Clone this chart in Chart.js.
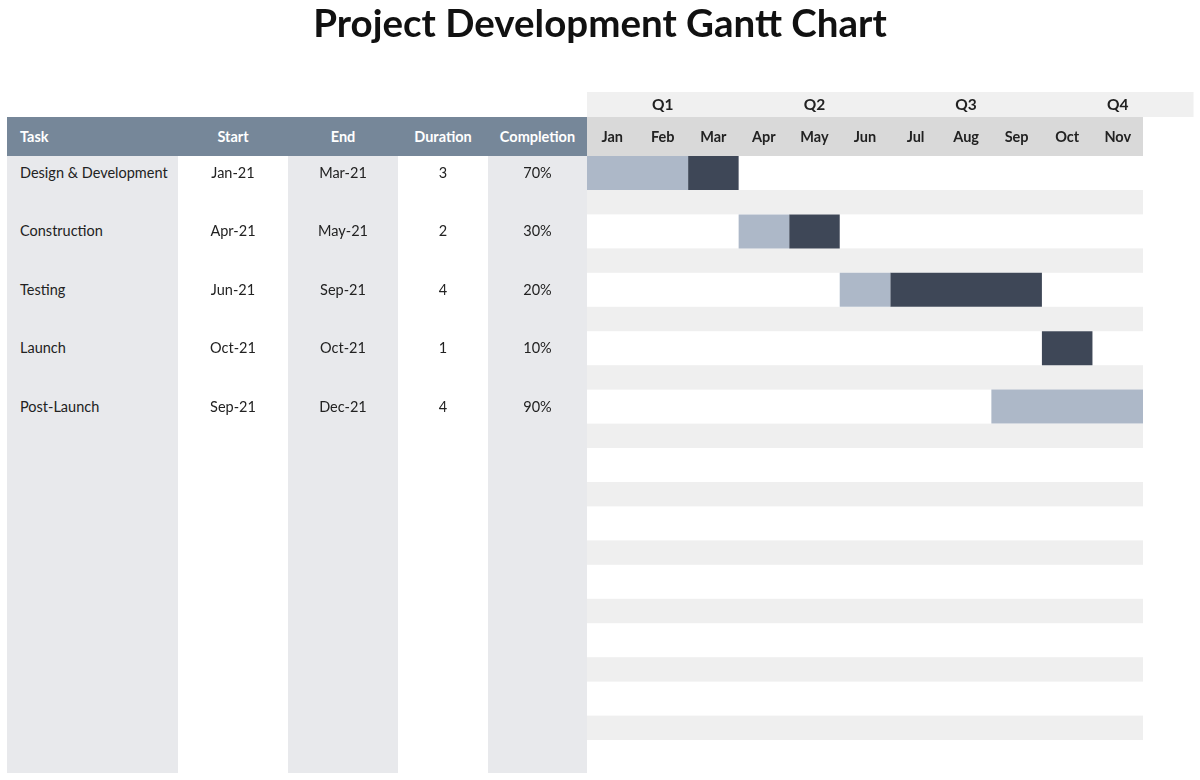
<!DOCTYPE html>
<html>
<head>
<meta charset="utf-8">
<script src="https://cdn.jsdelivr.net/npm/chart.js@4"></script>
<style>
    body { margin: 0; width: 1200px; height: 780px; overflow: hidden; background: #fff; position: relative; font-family: Lato, sans-serif; }
    h1 { position: absolute; left: 0; top: 0; width: 1200px; margin: 0; text-align: center; font-size: 38.5px; line-height: 44px; font-weight: 700; color: #111; }
    #chart { position: absolute; left: 0; top: 0; }
    .col { position: absolute; top: 156px; height: 617px; background: #e8e9ec; }
    #head { position: absolute; left: 7px; top: 117px; width: 580px; height: 39px; background: #768799; }
    .cell { position: absolute; height: 34px; line-height: 34px; font-size: 14.5px; color: #222; white-space: nowrap; }
    .hcell { position: absolute; top: 117px; height: 39px; line-height: 39px; font-size: 14.5px; font-weight: 700; color: #fff; white-space: nowrap; }
</style>
</head>
<body>
<canvas id="chart" width="1200" height="790"></canvas>
<div id="table"></div>
<h1>Project Development Gantt Chart</h1>
<script>
const tasks = ['Design & Development', 'Construction', 'Testing', 'Launch', 'Post-Launch'];
const startLabels = ['Jan-21', 'Apr-21', 'Jun-21', 'Oct-21', 'Sep-21'];
const endLabels = ['Mar-21', 'May-21', 'Sep-21', 'Oct-21', 'Dec-21'];
const durations = [3, 2, 4, 1, 4];
const completion = ['70%', '30%', '20%', '10%', '90%'];
const startMonth = [0, 3, 5, 9, 8];       // month index, Jan = 0
const completedMonths = [2, 1, 1, 0, 4];  // shaded light part of each bar
const months = ['Jan', 'Feb', 'Mar', 'Apr', 'May', 'Jun', 'Jul', 'Aug', 'Sep', 'Oct', 'Nov'];
const quarters = ['Q1', 'Q2', 'Q3', 'Q4'];
const headers = ['Task', 'Start', 'End', 'Duration', 'Completion'];
const emptyRows = 6;

const rowLabels = tasks.concat(Array(emptyRows).fill(''));
const BAR_PCT = 34 / 58.4;

// left table columns: [left, right, shaded]
const cols = [[7, 178, true], [178, 288, false], [288, 398, true], [398, 488, false], [488, 587, true]];

const ganttPlugin = {
    id: 'gantt',
    beforeDatasetsDraw(chart) {
        const { ctx, scales: { x, y } } = chart;
        const h = (y.getPixelForValue(1) - y.getPixelForValue(0)) * BAR_PCT;
        ctx.save();
        ctx.fillStyle = '#efefef';
        for (let i = 0; i < rowLabels.length - 1; i++) {
            const top = y.getPixelForValue(i) + h / 2;
            const bot = y.getPixelForValue(i + 1) - h / 2;
            ctx.fillRect(x.left, top, x.right - x.left, bot - top);
        }
        ctx.restore();
    },
    afterDraw(chart) {
        const { ctx, scales: { x } } = chart;
        ctx.save();
        // quarter band
        ctx.fillStyle = '#f0f0f0';
        ctx.fillRect(x.getPixelForValue(0), 92, x.getPixelForValue(12) - x.getPixelForValue(0), 25);
        ctx.fillStyle = '#222';
        ctx.font = 'bold 15.5px Lato';
        ctx.textAlign = 'center';
        ctx.textBaseline = 'middle';
        quarters.forEach((q, i) => ctx.fillText(q, x.getPixelForValue(i * 3 + 1.5), 105));
        // month header
        ctx.fillStyle = '#d9d9d9';
        ctx.fillRect(x.left, 117, x.right - x.left, 39);
        ctx.fillStyle = '#222';
        ctx.font = 'bold 14.5px Lato';
        months.forEach((m, i) => ctx.fillText(m, x.getPixelForValue(i + 0.5), 137));
        ctx.restore();
    }
};

const chart = new Chart(document.getElementById('chart'), {
    type: 'bar',
    data: {
        labels: rowLabels,
        datasets: [
            {
                label: 'Completed',
                data: tasks.map((t, i) => [startMonth[i], startMonth[i] + completedMonths[i]]),
                backgroundColor: '#adb8c8',
            },
            {
                label: 'Remaining',
                data: tasks.map((t, i) => [startMonth[i] + completedMonths[i], startMonth[i] + durations[i]]),
                backgroundColor: '#3e4757',
            },
        ],
    },
    options: {
        indexAxis: 'y',
        responsive: false,
        animation: false,
        devicePixelRatio: 1,
        grouped: false,
        barPercentage: BAR_PCT,
        categoryPercentage: 1,
        layout: { padding: { left: 587, right: 57, top: 143.8, bottom: 3.8 } },
        scales: {
            x: { type: 'linear', min: 0, max: 11, display: false },
            y: { type: 'category', display: false },
        },
        plugins: { legend: { display: false }, tooltip: { enabled: false } },
    },
    plugins: [ganttPlugin],
});

// table on the left, rows aligned with the chart's y scale
const table = document.getElementById('table');
let html = '';
cols.forEach(([l, r, shaded]) => {
    if (shaded) html += `<div class="col" style="left:${l}px;width:${r - l}px"></div>`;
});
html += '<div id="head"></div>';
headers.forEach((h, c) => {
    const [l, r] = cols[c];
    const style = c === 0 ? `left:${l + 13}px` : `left:${l}px;width:${r - l}px;text-align:center`;
    html += `<div class="hcell" style="${style}">${h}</div>`;
});
const yScale = chart.scales.y;
tasks.forEach((t, i) => {
    const top = yScale.getPixelForValue(i) - 17;
    const values = [t.replace('&', '&amp;'), startLabels[i], endLabels[i], durations[i], completion[i]];
    values.forEach((v, c) => {
        const [l, r] = cols[c];
        const style = c === 0 ? `left:${l + 13}px` : `left:${l}px;width:${r - l}px;text-align:center`;
        html += `<div class="cell" style="top:${top}px;${style}">${v}</div>`;
    });
});
table.innerHTML = html;
</script>
</body>
</html>
